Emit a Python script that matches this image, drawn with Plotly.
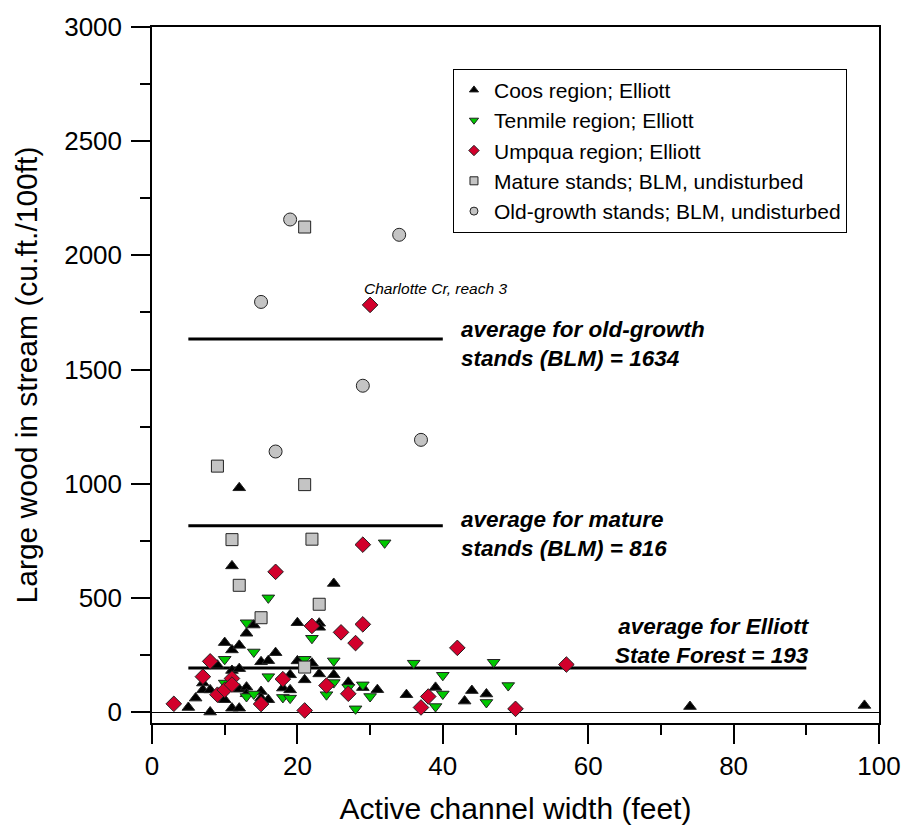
import plotly.graph_objects as go

# ---------------- data ----------------
coos_x = [5, 6, 7, 7, 8, 8, 9, 10, 10, 11, 11, 11, 11, 12, 12, 12, 12, 12, 13, 13, 13, 14, 15, 15, 15,
          16, 16, 17, 18, 19, 19, 20, 20, 21, 22, 23, 23, 23, 25, 25, 27, 29, 31, 35, 39, 43, 44, 46, 74, 98]
coos_y = [20, 61, 127, 97, 97, 0, 205, 304, 54, 272, 182, 17, 640, 292, 190, 17, 100, 982, 345, 109, 80,
          381, 220, 90, 61, 225, 54, 260, 105, 163, 97, 391, 224, 141, 214, 389, 371, 167, 563, 163,
          130, 107, 98, 76, 108, 48, 94, 79, 24, 29]

tenmile_x = [10, 10, 13, 13, 14, 14, 16, 16, 18, 19, 21, 22, 24, 25, 25, 27, 28, 29, 30, 32, 36, 39, 40,
             40, 46, 47, 49]
tenmile_y = [231, 127, 391, 68, 263, 79, 500, 155, 64, 61, 231, 323, 76, 224, 129, 108, 14, 119, 68, 741,
             214, 24, 161, 79, 42, 218, 116]

umpqua_x = [3, 7, 8, 9, 10, 11, 11, 15, 17, 18, 21, 22, 24, 26, 27, 28, 29, 29, 30, 37, 38, 42, 50, 57]
umpqua_y = [36, 155, 222, 76, 97, 147, 120, 35, 614, 144, 7, 377, 116, 349, 80, 302, 384, 733, 1783, 20,
            68, 281, 14, 208]

mature_x = [21, 9, 21, 11, 22, 12, 15, 23, 21]
mature_y = [2124, 1077, 996, 755, 757, 555, 413, 472, 197]

oldgrowth_x = [19, 15, 34, 29, 17, 37]
oldgrowth_y = [2157, 1796, 2090, 1429, 1141, 1192]

avg_labels = ["average for old-growth<br>stands (BLM) = 1634",
              "average for mature<br>stands (BLM) = 816",
              "average for Elliott<br>State Forest = 193"]
avg_values = [1634, 816, 193]
avg_x0 = [5, 5, 5]
avg_x1 = [40, 40, 90]

series_names = ["Coos region; Elliott", "Tenmile region; Elliott", "Umpqua region; Elliott",
                "Mature stands; BLM, undisturbed", "Old-growth stands; BLM, undisturbed"]

x_ticks = [0, 20, 40, 60, 80, 100]
y_ticks = [0, 500, 1000, 1500, 2000, 2500, 3000]

FONT = "Arial, 'Liberation Sans', Helvetica, sans-serif"

series = [
    (coos_x, coos_y, "triangle-up", "#000000", 11),
    (tenmile_x, tenmile_y, "triangle-down", "#00C800", 11),
    (umpqua_x, umpqua_y, "diamond", "#D2002C", 12),
    (mature_x, mature_y, "square", "#C4C4C4", 12),
    (oldgrowth_x, oldgrowth_y, "circle", "#C4C4C4", 13),
]

fig = go.Figure()

# average lines
for v, x0, x1 in zip(avg_values, avg_x0, avg_x1):
    fig.add_trace(go.Scatter(x=[x0, x1], y=[v, v], mode="lines",
                             line=dict(color="black", width=3), showlegend=False,
                             hoverinfo="skip"))

for (xs, ys, sym, col, sz), name in zip(series, series_names):
    fig.add_trace(go.Scatter(x=xs, y=ys, mode="markers", name=name, showlegend=False,
                             marker=dict(symbol=sym, color=col, size=sz,
                                         line=dict(color="#222222", width=1))))

# legend-only traces with smaller symbols
for (xs, ys, sym, col, sz), name in zip(series, series_names):
    fig.add_trace(go.Scatter(x=[None], y=[None], mode="markers", name=name,
                             marker=dict(symbol=sym, color=col, size=8,
                                         line=dict(color="#222222", width=1))))

# annotations
fig.add_annotation(x=avg_x1[0] + 2.2, y=avg_values[0], text="<b><i>" + avg_labels[0] + "</i></b>",
                   xanchor="left", yanchor="middle", align="left", showarrow=False, yshift=-5,
                   font=dict(size=22.5, color="black", family=FONT))
fig.add_annotation(x=avg_x1[1] + 2.2, y=avg_values[1], text="<b><i>" + avg_labels[1] + "</i></b>",
                   xanchor="left", yanchor="middle", align="left", showarrow=False, yshift=-8,
                   font=dict(size=22.5, color="black", family=FONT))
fig.add_annotation(x=avg_x1[2], y=avg_values[2], text="<b><i>" + avg_labels[2] + "</i></b>",
                   xanchor="right", yanchor="bottom", align="right", showarrow=False, yshift=-2,
                   xshift=6, font=dict(size=22.5, color="black", family=FONT))
fig.add_annotation(x=umpqua_x[18], y=umpqua_y[18], text="<i>Charlotte Cr, reach 3</i>",
                   xanchor="left", yanchor="bottom", showarrow=False, yshift=6, xshift=-8,
                   font=dict(size=15.5, color="black", family=FONT))

fig.update_layout(
    width=913, height=837,
    margin=dict(l=152, r=27, t=25, b=114),
    paper_bgcolor="white", plot_bgcolor="white",
    font=dict(family=FONT, color="black"),
    showlegend=True,
    legend=dict(x=0.414, y=0.94, xanchor="left", yanchor="top",
                bgcolor="white", bordercolor="black", borderwidth=1,
                font=dict(size=21, family=FONT, color="black"),
                itemwidth=30, tracegroupgap=0),
)
fig.update_xaxes(range=[0, 100], tickvals=x_ticks, ticks="outside", ticklen=19, tickwidth=1.5,
                 tickcolor="black", showline=True, linecolor="black", linewidth=1.5, mirror=True,
                 showgrid=False, zeroline=False,
                 minor=dict(dtick=10, ticks="outside", ticklen=10, tickwidth=1.5, tickcolor="black",
                            showgrid=False),
                 tickfont=dict(size=26, family=FONT),
                 title=dict(text="Active channel width (feet)", font=dict(size=30, family=FONT),
                            standoff=18))
fig.update_yaxes(range=[-48, 3000], tickvals=y_ticks, ticks="outside", ticklen=19, tickwidth=1.5,
                 tickcolor="black", showline=True, linecolor="black", linewidth=1.5, mirror=True,
                 showgrid=False, zeroline=True, zerolinecolor="black", zerolinewidth=1.2,
                 minor=dict(dtick=250, ticks="outside", ticklen=10, tickwidth=1.5, tickcolor="black",
                            showgrid=False),
                 tickfont=dict(size=26, family=FONT), ticklabelstandoff=4,
                 title=dict(text="Large wood in stream (cu.ft./100ft)", font=dict(size=30, family=FONT),
                            standoff=18))

fig.write_html("out.html")
